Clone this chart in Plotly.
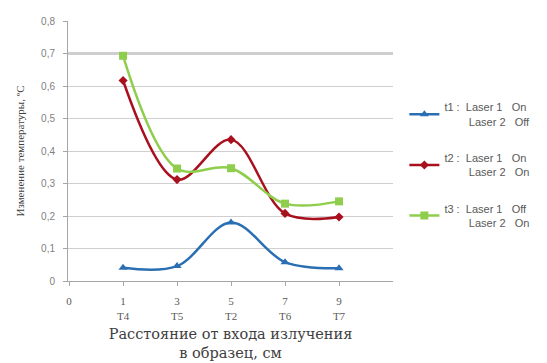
import plotly.graph_objects as go

NBSP = "\u00a0"

categories = ["0", "1<br>T4", "3<br>T5", "5<br>T2", "7<br>T6", "9<br>T7"]
cat_index = [0, 1, 2, 3, 4, 5]
point_index = [1, 2, 3, 4, 5]

t1_values = [0.041, 0.046, 0.180, 0.058, 0.039]
t2_values = [0.617, 0.312, 0.435, 0.208, 0.197]
t3_values = [0.693, 0.346, 0.347, 0.238, 0.245]


def legend_label(tag, l1, l2):
    return (tag + " :" + NBSP * 2 + "Laser 1" + NBSP * 3 + l1 + "<br>"
            + NBSP * 8 + "Laser 2" + NBSP * 3 + l2)


series_names = [
    legend_label("t1", "On", "Off"),
    legend_label("t2", "On", "On"),
    legend_label("t3", "Off", "On"),
]
series_values = [t1_values, t2_values, t3_values]
series_colors = ["#2a6fb3", "#a8101e", "#8fce4c"]
series_symbols = ["triangle-up", "diamond", "square"]
series_marker_sizes = [8, 7, 8]

highlight_level = 0.7

fig = go.Figure()
for i, (name, vals, col, sym, ms) in enumerate(
    zip(series_names, series_values, series_colors, series_symbols, series_marker_sizes)
):
    fig.add_trace(
        go.Scatter(
            x=point_index,
            y=vals,
            name=name,
            mode="lines+markers",
            line=dict(color=col, width=2.5, shape="spline", smoothing=1.0),
            marker=dict(symbol=sym, size=ms, color=col),
            legendgroup="g%d" % i,
        )
    )

fig.add_hline(y=highlight_level, line=dict(color="#9e9e9e", width=2), layer="below")

fig.update_layout(
    width=547,
    height=363,
    margin=dict(l=68, r=154, t=21, b=82),
    paper_bgcolor="white",
    plot_bgcolor="white",
    separators=",.",
    showlegend=True,
    legend=dict(
        x=1.035,
        y=0.446,
        xanchor="left",
        yanchor="middle",
        font=dict(family="Liberation Sans, Arial, sans-serif", size=11, color="#595959"),
        tracegroupgap=19,
        itemwidth=30,
        borderwidth=0,
        bgcolor="rgba(0,0,0,0)",
    ),
    xaxis=dict(
        range=[-0.02, 6.0],
        automargin=False,
        tickmode="array",
        tickvals=cat_index,
        ticktext=categories,
        showgrid=False,
        zeroline=False,
        showline=True,
        linecolor="#a6a6a6",
        linewidth=1,
        ticks="outside",
        ticklen=4,
        tickcolor="#a6a6a6",
        ticklabelstandoff=6,
        tickfont=dict(family="Liberation Serif, Times New Roman, serif", size=11, color="#595959"),
        title=dict(
            text="Расстояние от входа излучения<br>в образец, см",
            font=dict(family="DejaVu Serif, serif", size=14.5, color="#404040"),
            standoff=8,
        ),
    ),
    yaxis=dict(
        range=[0, 0.8],
        automargin=False,
        dtick=0.1,
        showgrid=True,
        gridcolor="#cfcfcf",
        gridwidth=1,
        zeroline=False,
        showline=True,
        linecolor="#a6a6a6",
        linewidth=1,
        ticks="outside",
        ticklen=4,
        tickcolor="#a6a6a6",
        ticklabelstandoff=6,
        tickfont=dict(family="Liberation Sans, Arial, sans-serif", size=10, color="#7f7f7f"),
        title=dict(
            text="Изменение температуры, ºС",
            font=dict(family="Liberation Serif, Times New Roman, serif", size=11, color="#404040"),
            standoff=14,
        ),
    ),
)

fig.write_html("out.html")
